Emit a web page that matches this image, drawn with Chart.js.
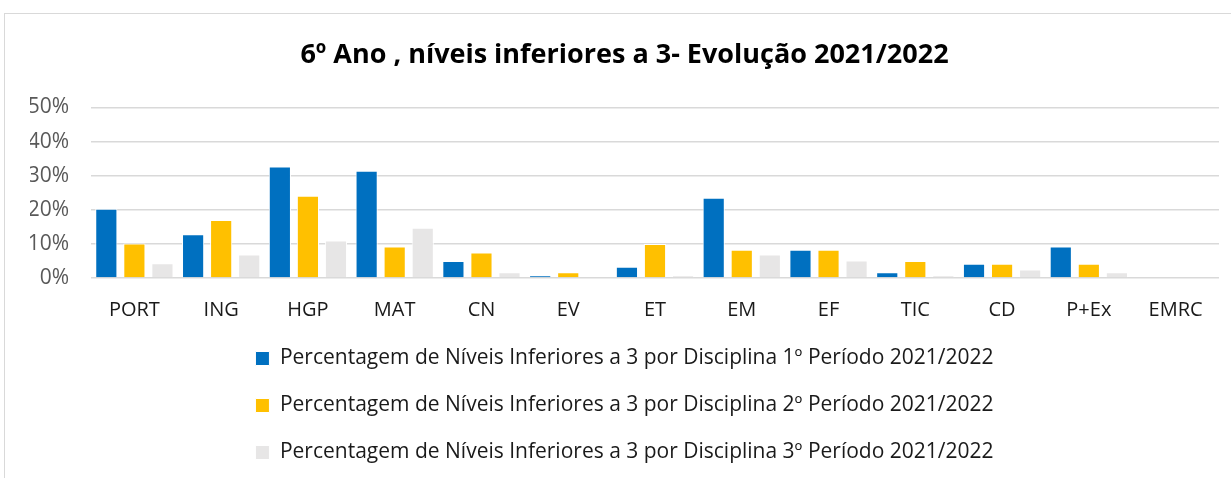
<!DOCTYPE html>
<html>
<head>
<meta charset="utf-8">
<script src="https://cdn.jsdelivr.net/npm/chart.js@4/dist/chart.umd.min.js"></script>
<style>
  body { margin: 0; background: #fff; }
  #moldura { position: absolute; left: 4px; top: 13px; width: 1240px; height: 480px; border: 1px solid #d9d9d9; }
  #wrap { position: absolute; left: 0; top: 0; width: 1231px; height: 478px; }
</style>
</head>
<body>
<div id="moldura"></div>
<div id="wrap"><canvas id="grafico"></canvas></div>
<script>
// Disciplinas e percentagens por período
const disciplinas = ['PORT', 'ING', 'HGP', 'MAT', 'CN', 'EV', 'ET', 'EM', 'EF', 'TIC', 'CD', 'P+Ex', 'EMRC'];
const periodo1 = [20.3, 12.8, 32.7, 31.4, 5.0, 0.8, 3.3, 23.5, 8.3, 1.7, 4.2, 9.2, 0];
const periodo2 = [10.1, 17.0, 24.1, 9.2, 7.5, 1.7, 10.0, 8.3, 8.3, 5.0, 4.2, 4.2, 0];
const periodo3 = [4.3, 6.9, 11.0, 14.7, 1.7, 0, 0.8, 6.9, 5.1, 0.8, 2.5, 1.7, 0];
const legendas = [
    'Percentagem de Níveis Inferiores a 3 por Disciplina 1º Período 2021/2022',
    'Percentagem de Níveis Inferiores a 3 por Disciplina 2º Período 2021/2022',
    'Percentagem de Níveis Inferiores a 3 por Disciplina 3º Período 2021/2022'
];
const cores = ['#0070c0', '#ffc000', '#e7e6e6'];

const series = [periodo1, periodo2, periodo3];

const ctx = document.getElementById('grafico').getContext('2d');
new Chart(ctx, {
    type: 'bar',
    data: {
        labels: disciplinas,
        datasets: series.map((valores, i) => ({
            label: legendas[i],
            data: valores,
            backgroundColor: cores[i],
            borderColor: '#ffffff',
            borderWidth: 1,
            categoryPercentage: 0.97,
            barPercentage: 0.79
        }))
    },
    options: {
        responsive: true,
        maintainAspectRatio: false,
        animation: false,
        layout: { padding: { left: 30, right: 12, top: 10, bottom: 5 } },
        plugins: {
            title: {
                display: true,
                text: '6º Ano , níveis inferiores a 3- Evolução 2021/2022',
                font: { family: 'Open Sans', size: 27, weight: 'bold' },
                color: '#000',
                padding: { top: 29, bottom: 36 }
            },
            legend: {
                position: 'bottom',
                align: 'center',
                labels: {
                    font: { family: 'Open Sans', size: 21 },
                    color: '#1a1a1a',
                    boxWidth: 14,
                    boxHeight: 14,
                    padding: 26
                }
            },
            tooltip: { enabled: false }
        },
        scales: {
            x: {
                grid: { display: false, drawTicks: false },
                border: { display: false },
                ticks: {
                    font: { family: 'Open Sans', size: 20 },
                    color: '#1a1a1a',
                    padding: 20
                },
                afterFit: scale => { scale.height = 44; }
            },
            y: {
                min: 0,
                max: 50,
                grid: { color: '#d9d9d9', lineWidth: 1.5, drawTicks: false },
                border: { display: false },
                ticks: {
                    stepSize: 10,
                    font: { family: 'Open Sans', size: 21 },
                    color: '#595959',
                    padding: 22,
                    callback: v => v + '%'
                },
                afterFit: scale => { scale.width = 61; }
            }
        }
    }
});
</script>
</body>
</html>
